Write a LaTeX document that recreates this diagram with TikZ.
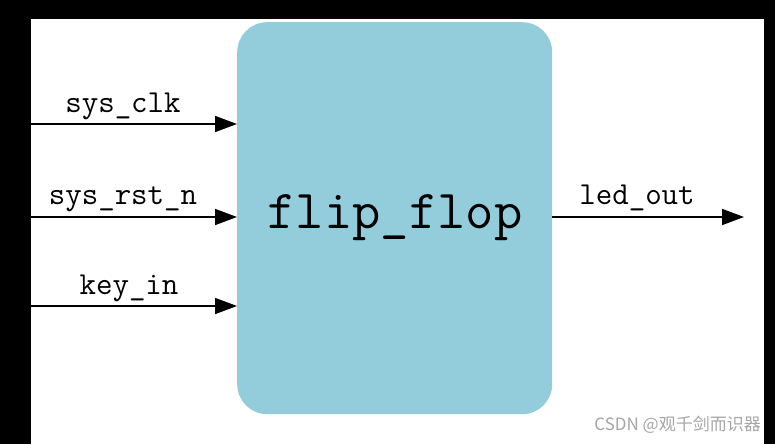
\documentclass[tikz,border=0pt]{standalone}
\usepackage{fontspec}
\newfontfamily\cjkfont{Noto Sans CJK SC}
\usetikzlibrary{arrows.meta}
\definecolor{boxblue}{HTML}{93CDDC}
\tikzset{
  sig/.style={line width=1.6pt,-{Triangle[length=22pt,width=16pt]}},
  lbl/.style={font=\fontsize{32}{32}\selectfont\ttfamily,inner sep=0pt,anchor=base},
}
\begin{document}
\begin{tikzpicture}[x=1pt,y=-1pt]
\useasboundingbox (0,0) rectangle (775,444);
\fill[black] (0,0) rectangle (775,444);
\fill[white] (31,19) rectangle (764,444);
\node[fill=boxblue,rounded corners=30pt,minimum width=315pt,minimum height=392pt,inner sep=0pt,anchor=north west] (ff) at (237,22) {};
\node[font=\fontsize{55}{55}\selectfont\ttfamily] (ffl) at (395,218) {flip\_flop};
\coordinate (i1) at (31,124);
\coordinate (i2) at (31,217);
\coordinate (i3) at (31,306);
\coordinate (o1) at (744,217);
\draw[sig] (i1) -- (ff.west |- i1);
\draw[sig] (i2) -- (ff.west |- i2);
\draw[sig] (i3) -- (ff.west |- i3);
\draw[sig] (ff.east |- o1) -- (o1);
\node[lbl] (l1) at (123,112) {sys\_clk};
\node[lbl] (l2) at (123,204) {sys\_rst\_n};
\node[lbl] (l3) at (129,294) {key\_in};
\node[lbl] (l4) at (637,204) {led\_out};
\node[font=\fontsize{17}{17}\selectfont\cjkfont,text=gray!70,anchor=east,inner sep=0pt] (wm) at (761,425) {CSDN @观千剑而识器};
\end{tikzpicture}
\end{document}
